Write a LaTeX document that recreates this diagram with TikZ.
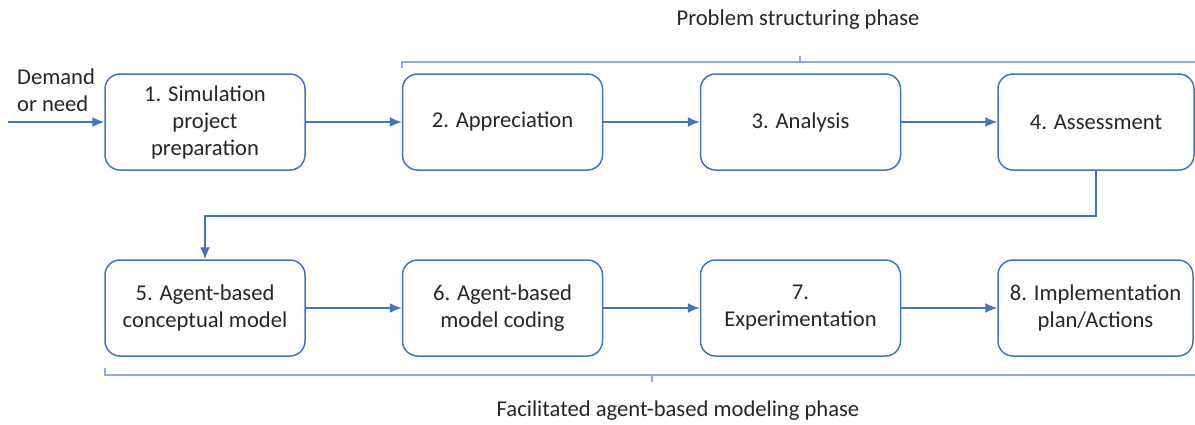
\documentclass[tikz,border=0pt]{standalone}
\usepackage{fontspec}
\setmainfont{Carlito}
\usetikzlibrary{arrows.meta}
\definecolor{boxblue}{HTML}{4472C4}
\definecolor{braceblue}{HTML}{8FAADC}
\definecolor{txtgray}{HTML}{262626}
\tikzset{>={Latex[length=6pt,width=5pt]}}
\tikzset{
  stage/.style={draw=boxblue,line width=0.75pt,rounded corners=7.5pt,
    minimum width=100pt,minimum height=48pt,inner sep=0pt,align=center,
    text=txtgray,font=\fontsize{11.3}{13.5}\selectfont},
  label/.style={text=txtgray,font=\fontsize{11.3}{13.5}\selectfont},
  flow/.style={draw=boxblue,line width=0.75pt,->},
  bracket/.style={draw=braceblue,line width=1pt}
}

\begin{document}
\begin{tikzpicture}[x=0.5pt,y=-0.5pt]
    \useasboundingbox (0,0) rectangle (1195,424);
      % first row
      \node[stage] (s1) at (205,122) {1. Simulation\\project\\preparation};
      \node[stage] (s2) at (502.5,122) {2. Appreciation};
      \node[stage] (s3) at (800.5,122) {3. Analysis};
      \node[stage,minimum width=98pt] (s4) at (1096,122) {4. Assessment};
      % second row
      \node[stage] (s5) at (205,308) {5. Agent-based\\conceptual model};
      \node[stage] (s6) at (502.5,308) {6. Agent-based\\model coding};
      \node[stage] (s7) at (800.5,308) {7.\\Experimentation};
      \node[stage,minimum width=97.5pt] (s8) at (1095.5,308) {8. Implementation\\plan/Actions};
      % input
      \coordinate (in) at (8,122);
      \node[label,align=left] (need) at (56,90) {Demand\\or need};
      \draw[flow] (in)--(s1);
      \draw[flow] (s1)--(s2);
      \draw[flow] (s2)--(s3);
      \draw[flow] (s3)--(s4);
      \draw[flow] (s4.south) -- ++(0,45) -| (s5.north);
      \draw[flow] (s5)--(s6);
      \draw[flow] (s6)--(s7);
      \draw[flow] (s7)--(s8);
      % phases
      \draw[bracket] (402,68)--(402,62)--(1195,62);
      \draw[bracket] (800,62)--(800,56);
      \node[label] (ps) at (798,20) {Problem structuring phase};
      \draw[bracket] (105,368)--(105,375)--(1195,375);
      \draw[bracket] (652,375)--(652,382);
      \node[label] (fab) at (678,411) {Facilitated agent-based modeling phase};
     \end{tikzpicture}
\end{document}
